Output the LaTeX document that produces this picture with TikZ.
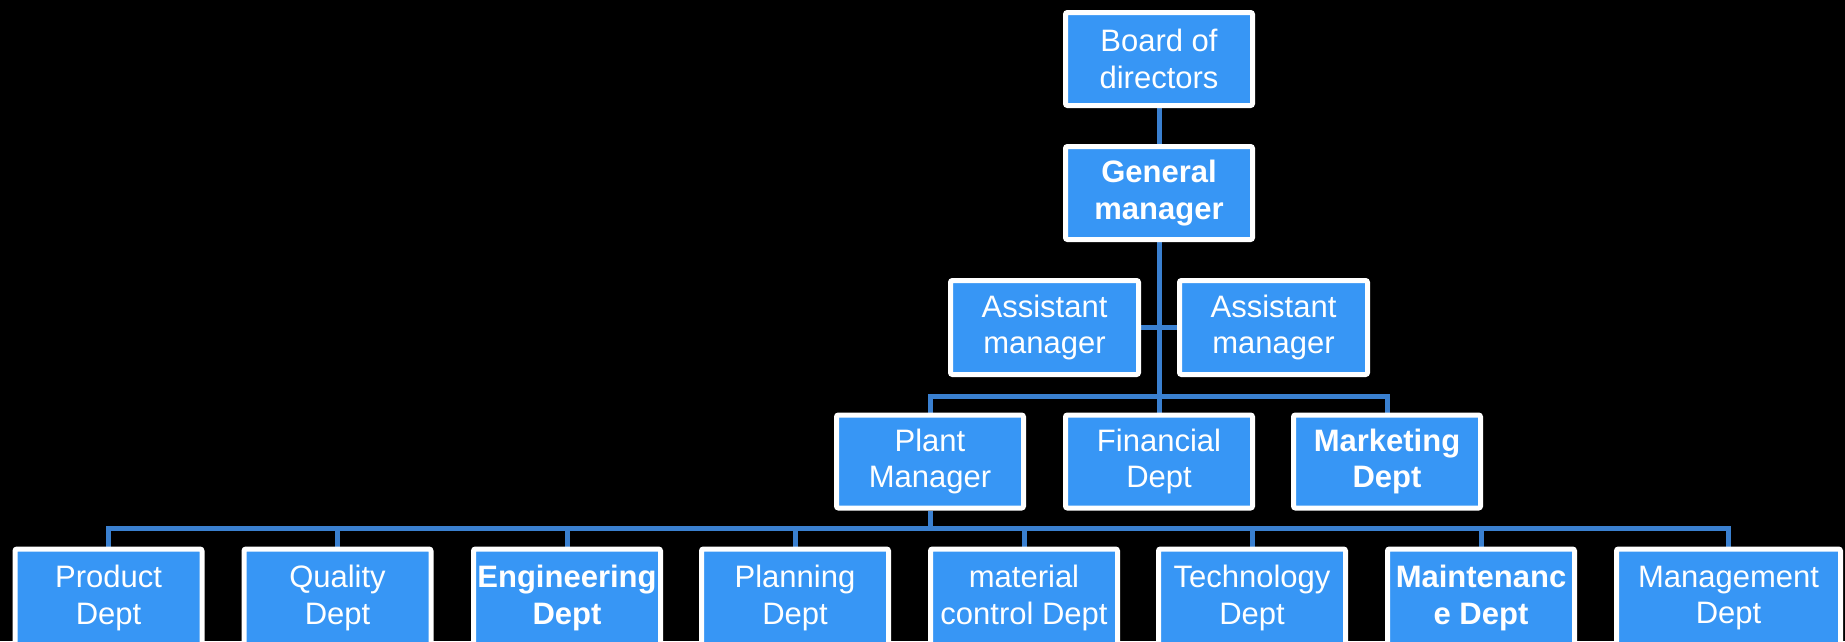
\documentclass[tikz,border=0pt]{standalone}
\usepackage{fontspec}
\setmainfont{Liberation Sans}
\usetikzlibrary{backgrounds}
\definecolor{boxblue}{RGB}{55,150,245}
\definecolor{linkblue}{RGB}{58,128,208}
\tikzset{
  orgbox/.style={draw=white, line width=5pt, fill=boxblue, rounded corners=2pt,
    text=white, align=center, inner sep=0pt, font=\fontsize{31}{36.5}\selectfont,
    minimum width=187pt, minimum height=93pt},
  boldbox/.style={orgbox, font=\fontsize{31}{36.5}\selectfont\bfseries},
  lowbox/.style={minimum height=98pt},
  link/.style={draw=linkblue, line width=5pt, line join=miter}
}
\begin{document}
\begin{tikzpicture}[x=1pt,y=-1pt]
\useasboundingbox (0,0) rectangle (1845,641);
\clip (0,0) rectangle (1845,641);
% top
\node[orgbox] (board) at (1159,59) {Board of\\directors};
\node[boldbox] (gm) at (1159,193) {General\\manager};
\node[orgbox, minimum width=188pt, minimum height=94pt] (asl) at (1044.5,327.5) {Assistant\\manager};
\node[orgbox, minimum width=188pt, minimum height=94pt] (asr) at (1273.5,327.5) {Assistant\\manager};
% middle row
\node[orgbox] (plant) at (930,461.5) {Plant\\Manager};
\node[orgbox] (fin) at (1159,461.5) {Financial\\Dept};
\node[boldbox] (mkt) at (1387,461.5) {Marketing\\Dept};
% bottom row
\node[orgbox, lowbox] (prod) at (108.5,598) {Product\\Dept};
\node[orgbox, lowbox] (qual) at (337.5,598) {Quality\\Dept};
\node[boldbox, lowbox] (eng) at (567,598) {Engineering\\Dept};
\node[orgbox, lowbox] (plan) at (795,598) {Planning\\Dept};
\node[orgbox, lowbox] (mat) at (1024,598) {material\\control Dept};
\node[orgbox, lowbox] (tech) at (1252,598) {Technology\\Dept};
\node[boldbox, lowbox] (maint) at (1481,598) {Maintenanc\\e Dept};
\node[orgbox, lowbox, minimum width=224pt] (mgmt) at (1728.5,598) {Management\\Dept};
\coordinate (bar1) at (1159,396);
\coordinate (bar2) at (930,528);
\begin{scope}[on background layer]
  \fill[black] (0,0) rectangle (1845,641);
  \draw[link] (board) -- (gm);
  \draw[link] (gm) -- (fin);
  \draw[link] (asl) -- (asr);
  \draw[link] (plant.north) |- (bar1) -| (mkt.north);
  \draw[link] (plant.south) -- (bar2);
  \draw[link] (prod.north) |- (bar2) -| (mgmt.north);
  \foreach \n in {qual,eng,plan,mat,tech,maint}
    \draw[link] (\n.north) -- (\n.north |- bar2);
\end{scope}
\end{tikzpicture}
\end{document}
